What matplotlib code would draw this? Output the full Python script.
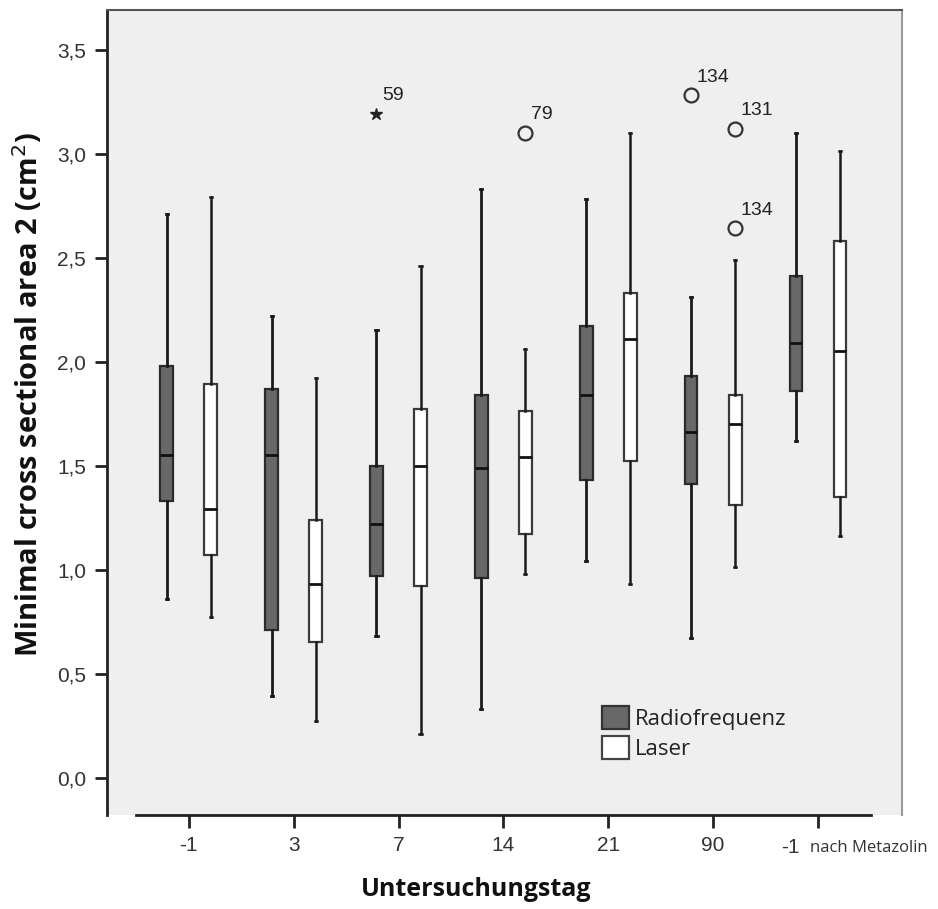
import matplotlib
matplotlib.use("Agg")
import matplotlib.pyplot as plt
from matplotlib.patches import Patch
from matplotlib.ticker import FuncFormatter, FixedLocator

# Untersuchungstag groups
days = ["-1", "3", "7", "14", "21", "90", "-1"]

# Radiofrequenz box stats
rf_low = [0.86, 0.39, 0.68, 0.33, 1.04, 0.67, 1.62]
rf_q1 = [1.33, 0.71, 0.97, 0.96, 1.43, 1.41, 1.86]
rf_med = [1.55, 1.55, 1.22, 1.49, 1.84, 1.66, 2.09]
rf_q3 = [1.98, 1.87, 1.50, 1.84, 2.17, 1.93, 2.41]
rf_high = [2.71, 2.22, 2.15, 2.83, 2.78, 2.31, 3.10]

# Laser box stats
la_low = [0.77, 0.27, 0.21, 0.98, 0.93, 1.01, 1.16]
la_q1 = [1.07, 0.65, 0.92, 1.17, 1.52, 1.31, 1.35]
la_med = [1.29, 0.93, 1.50, 1.54, 2.11, 1.70, 2.05]
la_q3 = [1.89, 1.24, 1.77, 1.76, 2.33, 1.84, 2.58]
la_high = [2.79, 1.92, 2.46, 2.06, 3.10, 2.49, 3.01]

# outliers: (group index, series, value, case label, marker)
out_group = [2, 3, 5, 5, 5]
out_series = ["rf", "la", "rf", "la", "la"]
out_value = [3.19, 3.10, 3.28, 3.12, 2.64]
out_label = ["59", "79", "134", "131", "134"]
out_marker = ["*", "o", "o", "o", "o"]

OFFSET = 0.21
WIDTH = 0.12
BG = "#efefef"
DARK = "#2b2b2b"


def make_stats(low, q1, med, q3, high):
    return [
        {"whislo": a, "q1": b, "med": c, "q3": d, "whishi": e, "fliers": []}
        for a, b, c, d, e in zip(low, q1, med, q3, high)
    ]


fig = plt.figure(figsize=(9.38, 9.09), dpi=100)
ax = fig.add_axes([0.114, 0.1034, 0.8476, 0.8856])
ax.set_facecolor(BG)

x = list(range(len(days)))
rf_pos = [i - OFFSET for i in x]
la_pos = [i + OFFSET for i in x]

ax.bxp(
    make_stats(rf_low, rf_q1, rf_med, rf_q3, rf_high),
    positions=rf_pos, widths=WIDTH, patch_artist=True, manage_ticks=False,
    boxprops=dict(facecolor="#686868", edgecolor=DARK, linewidth=1.6),
    whiskerprops=dict(color="#1a1a1a", linewidth=2.0),
    capprops=dict(color="#1a1a1a", linewidth=2.0),
    medianprops=dict(color="#111111", linewidth=2.0),
    capwidths=0.02,
)
ax.bxp(
    make_stats(la_low, la_q1, la_med, la_q3, la_high),
    positions=la_pos, widths=WIDTH, patch_artist=True, manage_ticks=False,
    boxprops=dict(facecolor="white", edgecolor="#3a3a3a", linewidth=1.6),
    whiskerprops=dict(color="#1a1a1a", linewidth=1.8),
    capprops=dict(color="#1a1a1a", linewidth=1.8),
    medianprops=dict(color="#111111", linewidth=2.0),
    capwidths=0.02,
)

for g, s, v, lab, m in zip(out_group, out_series, out_value, out_label, out_marker):
    px = g - OFFSET if s == "rf" else g + OFFSET
    if m == "*":
        ax.plot(px, v, marker="*", color="#222222", markersize=9, linestyle="none")
    else:
        ax.plot(px, v, marker="o", markerfacecolor="none", markeredgecolor="#333333",
                markeredgewidth=1.6, markersize=10, linestyle="none")
    ax.annotate(lab, (px, v), xytext=(4, 7), textcoords="offset points",
                ha="left", va="bottom", fontsize=14, color="#222222",
                family="Liberation Sans")

ax.set_xlim(-0.78, 6.80)
ax.set_ylim(-0.18, 3.69)

ax.yaxis.set_major_locator(FixedLocator([0.0, 0.5, 1.0, 1.5, 2.0, 2.5, 3.0, 3.5]))
ax.yaxis.set_major_formatter(FuncFormatter(lambda v, p: f"{v:.1f}".replace(".", ",")))
ax.set_xticks(x)
ax.set_xticklabels(days[:-1] + [""])
for t in ax.get_yticklabels() + ax.get_xticklabels():
    t.set_family("Liberation Sans")
    t.set_fontsize(15)
    t.set_color("#333333")
ax.tick_params(axis="both", direction="out", length=9, width=2, color="#222222", pad=6)

# last tick label edited in the original: "-1" shifted left + small note
ax.text(x[-1] - 0.26, -0.338, days[-1], ha="center", va="center", fontsize=15,
        color="#333333", family="Liberation Sans")
ax.text(x[-1] - 0.08, -0.338, "nach Metazolin", ha="left", va="center", fontsize=12,
        color="#333333", family="Open Sans")

for side in ["left", "bottom"]:
    ax.spines[side].set_color("#222222")
    ax.spines[side].set_linewidth(2)
ax.spines["bottom"].set_bounds(-0.5, 6.5)
ax.spines["top"].set_color("#555555")
ax.spines["top"].set_linewidth(1.5)
ax.spines["right"].set_color("#999999")
ax.spines["right"].set_linewidth(1.5)

ax.set_xlabel("Untersuchungstag", fontsize=18, fontweight="bold", family="Open Sans",
              color="#111111")
ax.xaxis.set_label_coords(0.464, -0.077)
ax.set_ylabel("Minimal cross sectional area 2 (cm$^2$)", fontsize=21, fontweight="bold",
              family="Open Sans", color="#111111")
ax.yaxis.set_label_coords(-0.078, 0.522)

handles = [
    Patch(facecolor="#686868", edgecolor="#333333", linewidth=1.6, label="Radiofrequenz"),
    Patch(facecolor="white", edgecolor="#444444", linewidth=1.6, label="Laser"),
]
leg = ax.legend(handles=handles, loc="upper left", bbox_to_anchor=(0.603, 0.155),
                frameon=False, handlelength=1.2, handleheight=1.2, handletextpad=0.3,
                labelspacing=0.3, borderpad=0.2,
                prop={"family": "Open Sans", "size": 16})
for t in leg.get_texts():
    t.set_color("#222222")

fig.savefig("out.png", dpi=100, facecolor="white")
